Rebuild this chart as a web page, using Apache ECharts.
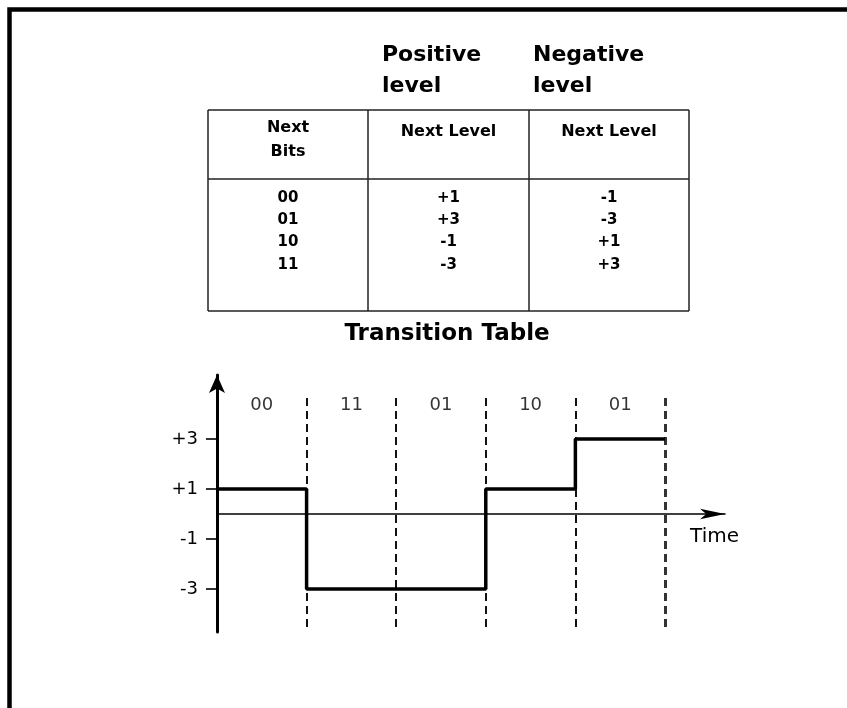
<!DOCTYPE html>
<html>
<head>
<meta charset="utf-8">
<script src="https://cdn.jsdelivr.net/npm/echarts@6/dist/echarts.min.js"></script>
<style>
html,body{margin:0;padding:0;background:#fff;}
#main{width:847px;height:708px;}
</style>
</head>
<body>
<div id="main"></div>
<script>
// ---- data ----
const bitGroups = ['00', '11', '01', '10', '01'];      // bits per symbol interval
const signalLevels = [1, -3, -3, 1, 3];                // level held in each interval
const boundaries = [1, 2, 3, 4, 5];                   // interval boundaries (dashed)
const yTickValues = [3, 1, -1, -3];
const tableHeaderTop = ['Positive\nlevel', 'Negative\nlevel'];
const tableColHeaders = ['Next\nBits', 'Next Level', 'Next Level'];
const tableBits = ['00', '01', '10', '11'];
const positiveNext = ['+1', '+3', '-1', '-3'];
const negativeNext = ['-1', '-3', '+1', '+3'];
const tableTitle = 'Transition Table';
const xAxisName = 'Time';

// ---- layout constants ----
const Y_MIN = -4.72, Y_MAX = 5.56;
const X_MIN = 0, X_MAX = 5.67;
const DASH_TOP = 4.64;
const BIT_LABEL_Y = 4.36;

const signalData = signalLevels.map((v, i) => [i, v]);
signalData.push([signalLevels.length, signalLevels[signalLevels.length - 1]]);

const chart = echarts.init(document.getElementById('main'), null, {renderer: 'canvas'});

// table graphics
const tX = [208, 368, 529, 689];
const tTop = 110, tSep = 179, tBot = 311;
const colCenters = [(tX[0] + tX[1]) / 2, (tX[1] + tX[2]) / 2, (tX[2] + tX[3]) / 2];
const lineStyle = {stroke: '#222', lineWidth: 1.5};
const graphics = [];
// outer frame (top and left)
graphics.push({type: 'polyline', shape: {points: [[9.5, 708], [9.5, 9.5], [847, 9.5]]},
  style: {stroke: '#000', lineWidth: 4.5, fill: null}, silent: true});
// table lines
[tTop, tSep, tBot].forEach(y => graphics.push({type: 'line', shape: {x1: tX[0], y1: y, x2: tX[3], y2: y}, style: lineStyle, silent: true}));
tX.forEach(x => graphics.push({type: 'line', shape: {x1: x, y1: tTop, x2: x, y2: tBot}, style: lineStyle, silent: true}));
// top headers
const topHeaderX = [382, 533];
tableHeaderTop.forEach((t, i) => graphics.push({type: 'text', x: topHeaderX[i], y: 71,
  style: {text: t, font: 'bold 22px "DejaVu Sans"', fill: '#000', textAlign: 'left', textVerticalAlign: 'middle', lineHeight: 31}, silent: true}));
// column headers
tableColHeaders.forEach((t, i) => graphics.push({type: 'text', x: colCenters[i], y: i === 0 ? 116 : 120,
  style: {text: t, font: 'bold 16px "DejaVu Sans"', fill: '#000', textAlign: 'center', textVerticalAlign: 'top', lineHeight: 24}, silent: true}));
// rows
const cols = [tableBits, positiveNext, negativeNext];
cols.forEach((arr, c) => arr.forEach((t, r) => graphics.push({type: 'text', x: colCenters[c], y: 198 + r * 22.3,
  style: {text: t, font: 'bold 15px "DejaVu Sans"', fill: '#000', textAlign: 'center', textVerticalAlign: 'middle'}, silent: true})));
// table title
graphics.push({type: 'text', x: 447, y: 334,
  style: {text: tableTitle, font: 'bold 23px "DejaVu Sans"', fill: '#000', textAlign: 'center', textVerticalAlign: 'middle'}, silent: true});

const option = {
  animation: false,
  backgroundColor: '#fff',
  grid: {left: 217, right: 847 - 725, top: 375, bottom: 708 - 632, containLabel: false},
  xAxis: {
    type: 'value', min: X_MIN, max: X_MAX,
    name: xAxisName, nameLocation: 'end', nameGap: -1,
    nameTextStyle: {fontFamily: 'DejaVu Sans', fontSize: 20, color: '#000', align: 'right', verticalAlign: 'top', padding: [8, -15, 0, 0], lineHeight: 30},
    axisLine: {show: true, onZero: true, symbol: ['none', 'arrow'], symbolSize: [8, 25], lineStyle: {color: '#000', width: 1.6}},
    axisTick: {show: false}, axisLabel: {show: false}, splitLine: {show: false}
  },
  yAxis: {
    type: 'value', min: Y_MIN, max: Y_MAX,
    axisLine: {show: true, symbol: ['none', 'arrow'], symbolSize: [12, 18], lineStyle: {color: '#000', width: 3}},
    axisTick: {show: true, length: 11, customValues: yTickValues, lineStyle: {color: '#000', width: 1.6}},
    axisLabel: {show: true, customValues: yTickValues, margin: 19, fontFamily: 'DejaVu Sans', fontSize: 18, color: '#000',
      formatter: v => (v > 0 ? '+' + v : String(v))},
    splitLine: {show: false}
  },
  graphic: graphics,
  series: [
    {
      type: 'scatter', symbolSize: 0, z: 1,
      data: bitGroups.map((b, i) => [i + 0.5, BIT_LABEL_Y, b]),
      label: {show: true, position: 'inside', formatter: p => p.value[2], fontFamily: 'DejaVu Sans', fontSize: 18, color: '#000'},
      markLine: {
        silent: true, symbol: 'none', label: {show: false},
        lineStyle: {color: '#111', type: [8, 5], width: 2},
        data: boundaries.map((b, i) => [
          {coord: [b, DASH_TOP], lineStyle: i === boundaries.length - 1 ? {width: 3, color: '#333', type: [8, 5]} : undefined},
          {coord: [b, Y_MIN]}
        ])
      }
    },
    {
      type: 'line', step: 'end', z: 5, symbol: 'none',
      data: signalData,
      lineStyle: {color: '#000', width: 3.5}
    }
  ]
};
chart.setOption(option);
</script>
</body>
</html>
